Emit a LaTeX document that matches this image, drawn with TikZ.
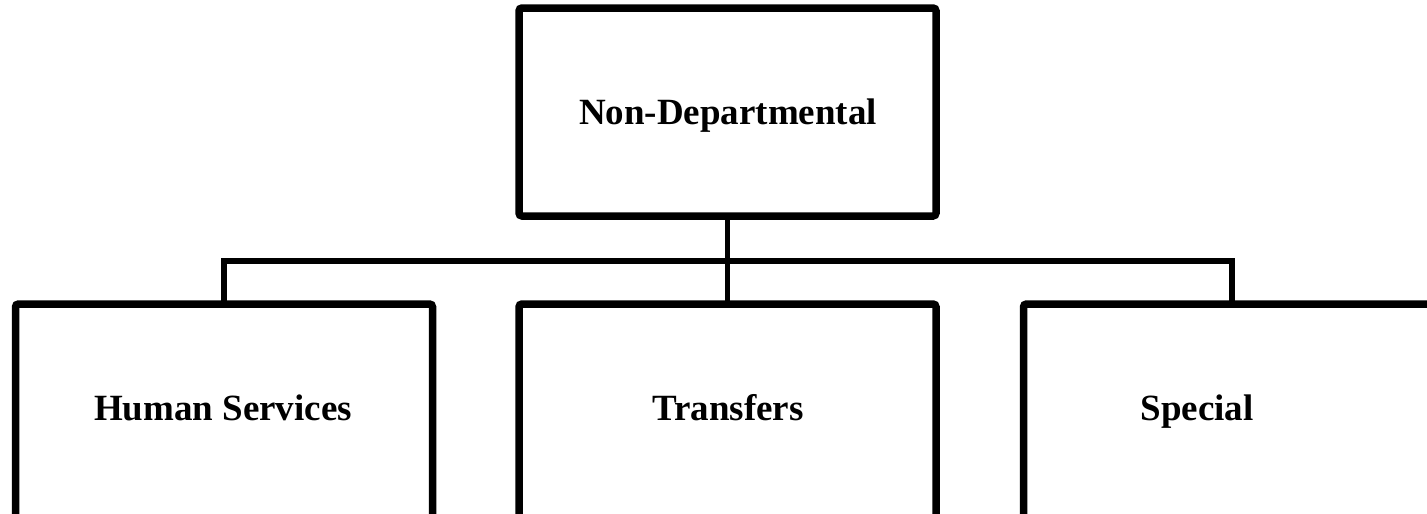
\documentclass[tikz,border=0pt]{standalone}
\usepackage{fontspec}
\setmainfont{Liberation Serif}
\usetikzlibrary{shadows}
\begin{document}
\begin{tikzpicture}[x=1pt,y=-1pt,
  orgbox/.style={draw=black, line width=7.5pt, rounded corners=3pt, fill=white,
    drop shadow={shadow xshift=2.5pt, shadow yshift=-2.5pt, opacity=0.18},
    minimum width=417pt, minimum height=#1, inner sep=0pt, outer sep=0pt},
  orgbox/.default=208pt,
  lbl/.style={anchor=base, font=\fontsize{37}{40}\selectfont\bfseries},
  link/.style={draw=black, line width=5.5pt}]
\useasboundingbox (0,0) rectangle (1427,514);
\clip (0,0) rectangle (1427,514);
% boxes
\node[orgbox] (top) at (727.5,112) {};
\node[orgbox=240pt] (hs) at (224,424) {};
\node[orgbox=240pt] (tr) at (727.5,424) {};
\node[orgbox=240pt] (sp) at (1232,424) {};
% connectors
\coordinate (rail) at (727.5,261);
\draw[link] (top.south) -- (tr.north);
\draw[link] (hs.north) |- (rail) -| (sp.north);
% labels
\node[lbl] (t0) at (728,124) {Non-Departmental};
\node[lbl] (t1) at (223,420) {Human Services};
\node[lbl] (t2) at (728,420) {Transfers};
\node[lbl] (t3) at (1197,420) {Special};
\end{tikzpicture}
\end{document}
